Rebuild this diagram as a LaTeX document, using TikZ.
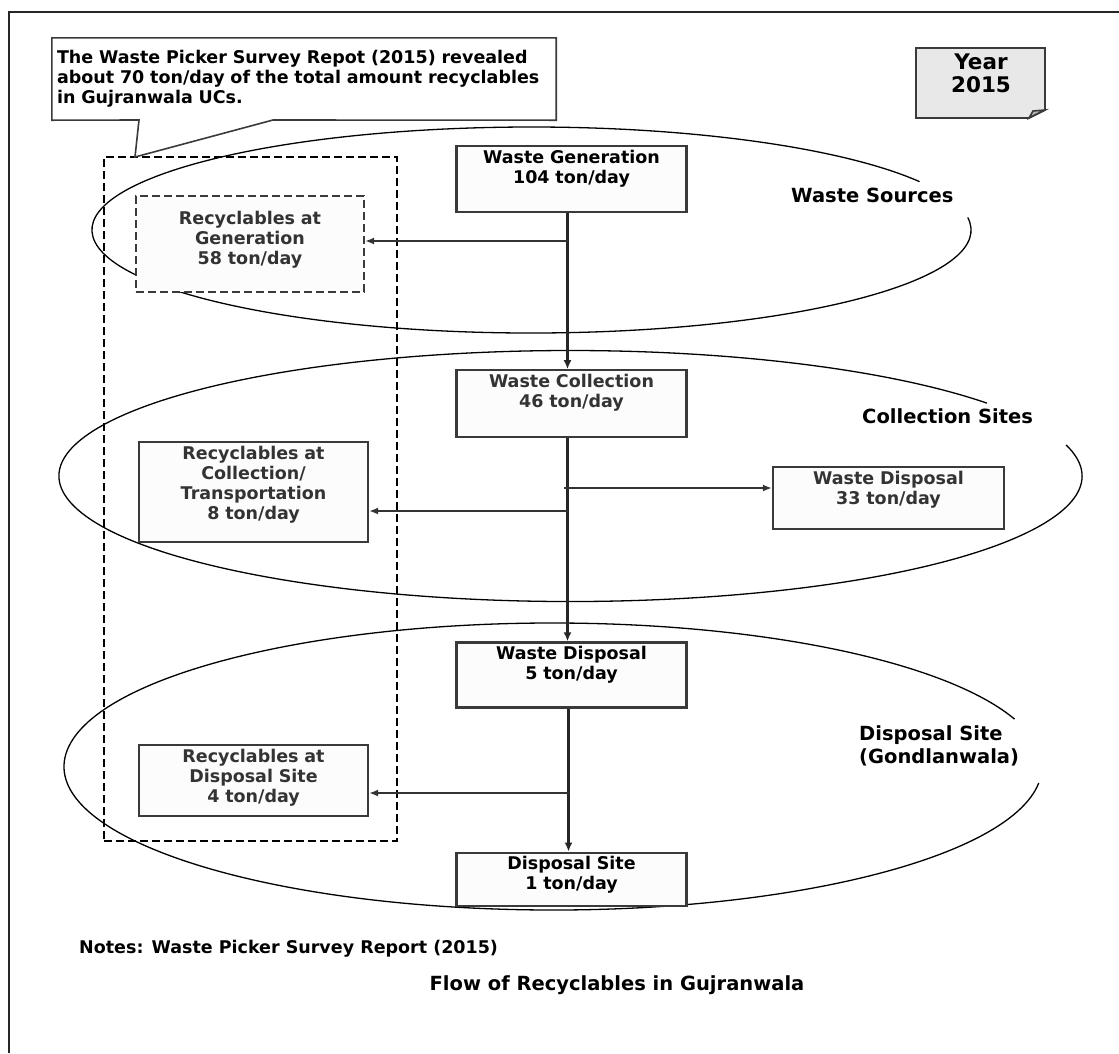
\documentclass[tikz,border=0pt]{standalone}
\usepackage{fontspec}
\setmainfont{DejaVu Sans}
\usetikzlibrary{arrows.meta,positioning}
\definecolor{InkGray}{HTML}{333333}
\definecolor{LineGray}{HTML}{3A3A3A}
\definecolor{PaperWhite}{HTML}{FCFCFC}
\definecolor{NoteGray}{HTML}{E8E8E8}
\definecolor{FoldGray}{HTML}{B4B4B4}
\newcommand{\flowfont}{\fontsize{17.5}{20}\selectfont\bfseries}
\newcommand{\zonefont}{\fontsize{19.5}{23}\selectfont\bfseries}
\newcommand{\yearfont}{\fontsize{21.5}{23}\selectfont\bfseries}
\tikzset{
  flowbox/.style={draw=LineGray,line width=2.2pt,fill=PaperWhite,align=center,
              inner xsep=2pt,inner ysep=4pt,text height=13pt,text width=226pt,
              text=InkGray,font=\flowfont},
  groupbox/.style={draw=black,line width=1.8pt,dash pattern=on 8pt off 4pt,inner sep=0pt},
  zone/.style={draw=black,line width=1.3pt},
  zonelabel/.style={font=\zonefont,text=black,inner sep=0pt},
  surveytext/.style={font=\flowfont,text=black,align=left,text width=494pt,
              minimum width=504pt,minimum height=82pt,inner xsep=5pt,inner ysep=0pt},
  noteline/.style={draw=LineGray,line width=1.6pt},
  flow/.style={-{Latex[length=9pt,width=8pt]},line width=2.2pt,draw=black!85},
  sideflow/.style={-{Latex[length=9pt,width=7pt]},line width=1.7pt,draw=InkGray},
  plaintext/.style={font=\flowfont,text=black,inner sep=0pt}
}

\begin{document}
\begin{tikzpicture}[x=1pt,y=-1pt]
  \useasboundingbox (0,0) rectangle (1119,1053);
  \draw[line width=2.6pt,draw=black!85] (9,1053) |- (1119,12);

  \draw[zone] (531.5,230) ++(-7:439.5 and 103)
    arc[start angle=-7,end angle=332,x radius=439.5,y radius=103];
  \draw[zone] (570.5,476) ++(-14.3:511.5 and 125.5)
    arc[start angle=-14.3,end angle=324.5,x radius=511.5,y radius=125.5];
  \draw[zone] (553,766.5) ++(6.6:489 and 143.5)
    arc[start angle=6.6,end angle=340.7,x radius=489,y radius=143.5];

  \node[groupbox,minimum width=293pt,minimum height=684pt] (recgroup) at (250.5,499) {};

  \node[surveytext] (survey) at (304,79) {The Waste Picker Survey Repot (2015) revealed\\about 70 ton/day of the total amount recyclables\\in Gujranwala UCs.};
  \coordinate (tailL) at (139,120);
  \coordinate (tailR) at (273,120);
  \coordinate (tip) at (135,157);
  \draw[noteline] (survey.north west) -- (survey.north east) -- (survey.south east)
    -- (tailR) -- (tip) -- (tailL) -- (survey.south west) -- cycle;

  \draw[noteline,fill=NoteGray] (916,48) -- (1045,48) -- (1045,110) -- (1029,118) -- (916,118) -- cycle;
  \draw[noteline,fill=FoldGray] (1045,110) -- (1033,111) -- (1029,118) -- cycle;
  \node[font=\yearfont,align=center,inner sep=0pt] (year) at (981,73.5) {Year\\2015};

  \node[flowbox,text=black,text depth=45pt] (gen) at (571.5,179) {Waste Generation\\104 ton/day};
  \node[flowbox,below=156pt of gen,text depth=46pt] (coll) {Waste Collection\\46 ton/day};
  \node[flowbox,text=black,below=203pt of coll,text depth=44pt] (disp) {Waste Disposal\\5 ton/day};
  \node[flowbox,text=black,below=143pt of disp,text depth=32pt] (site) {Disposal Site\\1 ton/day};

  \node[flowbox,dash pattern=on 8pt off 4pt,text width=224pt,text height=24pt,text depth=64pt] (rgen) at (250,244) {Recyclables at\\Generation\\58 ton/day};
  \node[flowbox,text width=225pt,text depth=79pt] (rcoll) at (253.5,492) {Recyclables at\\Collection/\\Transportation\\8 ton/day};
  \node[flowbox,text width=225pt,text depth=50pt] (rdisp) at (253.5,780.5) {Recyclables at\\Disposal Site\\4 ton/day};
  \node[flowbox,text width=227pt,text depth=41pt] (wdis) at (888.5,498) {Waste Disposal\\33 ton/day};

  \node[zonelabel,anchor=west] (srclabel) at (791,195) {Waste Sources};
  \node[zonelabel,anchor=west] (colllabel) at (862,416) {Collection Sites};
  \node[zonelabel,anchor=west,align=left] (displabel) at (859,745.5) {Disposal Site\\(Gondlanwala)};

  \coordinate (genjoin) at (567.5,241);
  \coordinate (colljoinR) at (564,488);
  \coordinate (colljoinL) at (567.5,511);
  \coordinate (dispjoin) at (568.5,793);

  \draw[flow] ([xshift=-4pt]gen.south) -- ([xshift=-4pt]coll.north);
  \draw[flow] ([xshift=-4pt]coll.south) -- ([xshift=-4pt]disp.north);
  \draw[flow] ([xshift=-3pt]disp.south) -- ([xshift=-3pt]site.north);
  \draw[sideflow] (genjoin) -- (genjoin -| rgen.east);
  \draw[sideflow] (colljoinR) -- (colljoinR -| wdis.west);
  \draw[sideflow] (colljoinL) -- (colljoinL -| rcoll.east);
  \draw[sideflow] (dispjoin) -- (dispjoin -| rdisp.east);

  \node[plaintext,anchor=west] (notes) at (79,949) {Notes: Waste Picker Survey Report (2015)};
  \node[plaintext,font=\zonefont] (title) at (617,985) {Flow of Recyclables in Gujranwala};
\end{tikzpicture}
\end{document}
